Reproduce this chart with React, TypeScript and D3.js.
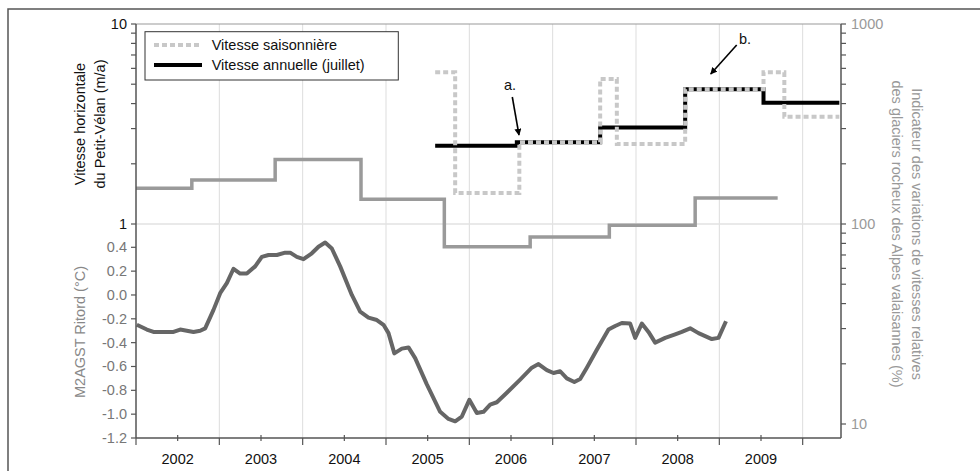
import * as d3 from 'd3';

// rock glacier indicator (%), right axis, step changes
const rgBreaks = [2002.0, 2002.67, 2003.67, 2004.70, 2005.70, 2006.73, 2007.68, 2008.71, 2009.70];
const rgValues = [151, 166, 210, 133, 77, 86, 98.5, 135];

// Petit-Vélan annual velocity (m/a), july to july
const annBreaks = [2005.59, 2006.57, 2007.57, 2008.59, 2009.53, 2010.44];
const annValues = [2.46, 2.56, 3.04, 4.72, 4.04];

// Petit-Vélan seasonal velocity (m/a)
const seasBreaks = [2005.59, 2005.83, 2006.60, 2007.57, 2007.77, 2008.59, 2009.53, 2009.78, 2010.44];
const seasValues = [5.73, 1.43, 2.56, 5.31, 2.51, 4.72, 5.73, 3.44];

// M2AGST Ritord (°C)
const tempTimes = [
  2002.01, 2002.13, 2002.21, 2002.45, 2002.53, 2002.69, 2002.77, 2002.83, 2002.93, 2003.01,
  2003.09, 2003.17, 2003.25, 2003.33, 2003.43, 2003.51, 2003.59, 2003.69, 2003.79, 2003.85,
  2003.93, 2004.01, 2004.11, 2004.19, 2004.27, 2004.35, 2004.45, 2004.59, 2004.69, 2004.79,
  2004.89, 2004.97, 2005.03, 2005.10, 2005.19, 2005.27, 2005.35, 2005.49, 2005.65, 2005.75,
  2005.83, 2005.91, 2006.00, 2006.09, 2006.17, 2006.25, 2006.33, 2006.45, 2006.61, 2006.75,
  2006.83, 2006.93, 2007.01, 2007.09, 2007.17, 2007.26, 2007.33, 2007.41, 2007.53, 2007.67,
  2007.75, 2007.83, 2007.93, 2007.99, 2008.07, 2008.15, 2008.23, 2008.35, 2008.47, 2008.55,
  2008.65, 2008.75, 2008.91, 2008.99, 2009.08,
];
const tempValues = [
  -0.25, -0.29, -0.31, -0.31, -0.29, -0.31, -0.30, -0.28, -0.125, 0.015,
  0.10, 0.22, 0.18, 0.18, 0.24, 0.32, 0.335, 0.335, 0.355, 0.355,
  0.32, 0.30, 0.35, 0.405, 0.44, 0.39, 0.24, 0.0, -0.14, -0.19,
  -0.21, -0.25, -0.32, -0.49, -0.45, -0.44, -0.53, -0.75, -0.98, -1.04,
  -1.06, -1.02, -0.88, -0.99, -0.98, -0.92, -0.90, -0.82, -0.71, -0.61,
  -0.58, -0.63, -0.655, -0.64, -0.70, -0.73, -0.705, -0.61, -0.46, -0.29,
  -0.26, -0.235, -0.24, -0.36, -0.24, -0.31, -0.40, -0.36, -0.33, -0.31,
  -0.28, -0.32, -0.37, -0.36, -0.22,
];

const yearLabels = ['2002', '2003', '2004', '2005', '2006', '2007', '2008', '2009'];
const tempTicks = [0.4, 0.2, 0.0, -0.2, -0.4, -0.6, -0.8, -1.0, -1.2];
const logMinor = [2, 3, 4, 5, 6, 7, 8, 9];

const FONT = '"Liberation Sans", Arial, sans-serif';
const FS = 14.5;

function stepPts(breaks, values) {
  const pts = values.map((v, i) => [breaks[i], v]);
  pts.push([breaks[breaks.length - 1], values[values.length - 1]]);
  return pts;
}

export default function App() {
  const left = 136, right = 841, top = 24, bottom = 438;

  const x = d3.scaleLinear().domain([2002, 2010.46]).range([left, right]);
  const yVel = d3.scaleLog().domain([1, 10]).range([224, top]);
  const yPct = d3.scaleLog().domain([10, 1000]).range([424, top]);
  const yTemp = d3.scaleLinear().domain([-1.2, 0.4]).range([bottom, 247.3]);

  const stepVel = d3.line().curve(d3.curveStepAfter).x(d => x(d[0])).y(d => yVel(d[1]));
  const stepPct = d3.line().curve(d3.curveStepAfter).x(d => x(d[0])).y(d => yPct(d[1]));
  const tempLine = d3.line().x(d => x(d[0])).y(d => yTemp(d[1]));

  const years = d3.range(2003, 2011);
  const midYears = yearLabels.map(y => +y + 0.5);
  const velTicks = [1, ...logMinor, 10];
  const pctTicks = [10, ...logMinor.map(v => v * 10), 100, ...logMinor.map(v => v * 100), 1000];

  return (
    <svg width={980} height={471} style={{ position: 'absolute', left: 0, top: 0, fontFamily: FONT }}>
      <rect x={0} y={0} width={980} height={471} fill="#fff" />
      <rect x={8} y={9} width={1000} height={600} fill="none" stroke="#555" strokeWidth={1.5} />

      {/* grid */}
      {years.map(yr => (
        <line key={yr} x1={x(yr)} x2={x(yr)} y1={top} y2={bottom} stroke="#ddd" strokeWidth={1} />
      ))}
      <line x1={left} x2={right} y1={yVel(1)} y2={yVel(1)} stroke="#e2e2e2" strokeWidth={1.5} />
      <line x1={left} x2={right} y1={top} y2={top} stroke="#999" strokeWidth={1} />

      {/* series */}
      <path d={stepPct(stepPts(rgBreaks, rgValues))} fill="none" stroke="#9a9a9a" strokeWidth={3.5} />
      <path d={tempLine(tempTimes.map((t, i) => [t, tempValues[i]]))} fill="none" stroke="#666" strokeWidth={4} strokeLinejoin="round" />
      <path d={stepVel(stepPts(annBreaks, annValues))} fill="none" stroke="#000" strokeWidth={4} />
      <path d={stepVel(stepPts(seasBreaks, seasValues))} fill="none" stroke="#c8c8c8" strokeWidth={4} strokeDasharray="5 3" />

      {/* left axis */}
      <line x1={left} x2={left} y1={top} y2={bottom} stroke="#555" strokeWidth={1.5} />
      {velTicks.map(v => (
        <line key={'v' + v} x1={left - 5} x2={left} y1={yVel(v)} y2={yVel(v)} stroke="#555" strokeWidth={1.2} />
      ))}
      <text x={left - 9} y={yVel(10) + 5} textAnchor="end" fontSize={FS} fill="#111">10</text>
      <text x={left - 9} y={yVel(1) + 5} textAnchor="end" fontSize={FS} fill="#111">1</text>
      {tempTicks.map(v => (
        <g key={'t' + v}>
          <line x1={left - 5} x2={left} y1={yTemp(v)} y2={yTemp(v)} stroke="#555" strokeWidth={1.2} />
          <text x={left - 9} y={yTemp(v) + 5} textAnchor="end" fontSize={FS} fill="#777">{v.toFixed(1)}</text>
        </g>
      ))}
      <text transform="translate(85,124) rotate(-90)" textAnchor="middle" fontSize={FS} fill="#111">
        <tspan x={0} dy={0}>Vitesse horizontale</tspan>
        <tspan x={0} dy={20}>du Petit-Vélan (m/a)</tspan>
      </text>
      <text transform="translate(85,332) rotate(-90)" textAnchor="middle" fontSize={FS} fill="#888">M2AGST Ritord (°C)</text>

      {/* right axis */}
      <line x1={right} x2={right} y1={top} y2={bottom} stroke="#555" strokeWidth={1.5} />
      {pctTicks.map(v => (
        <line key={'p' + v} x1={right} x2={right + 5} y1={yPct(v)} y2={yPct(v)} stroke="#555" strokeWidth={1.2} />
      ))}
      {[1000, 100, 10].map(v => (
        <text key={'pl' + v} x={right + 10} y={yPct(v) + 5} fontSize={FS} fill="#999">{v}</text>
      ))}
      <text transform="translate(912,234) rotate(90)" textAnchor="middle" fontSize={FS} fill="#999">
        <tspan x={0} dy={0}>Indicateur des variations de vitesses relatives</tspan>
        <tspan x={0} dy={20}>des glaciers rocheux des Alpes valaisannes (%)</tspan>
      </text>

      {/* bottom axis */}
      <line x1={left} x2={right} y1={bottom} y2={bottom} stroke="#555" strokeWidth={1.5} />
      {[2002, ...years].map(yr => (
        <line key={'yt' + yr} x1={x(yr)} x2={x(yr)} y1={bottom} y2={bottom + 7} stroke="#555" strokeWidth={1.2} />
      ))}
      {midYears.map((m, i) => (
        <g key={'m' + m}>
          <line x1={x(m)} x2={x(m)} y1={bottom - 3} y2={bottom + 3} stroke="#555" strokeWidth={1.2} />
          <text x={x(m)} y={464} textAnchor="middle" fontSize={FS} fill="#111">{yearLabels[i]}</text>
        </g>
      ))}

      {/* annotations */}
      <defs>
        <marker id="arr" viewBox="0 0 10 10" refX={9} refY={5} markerWidth={7} markerHeight={7} orient="auto" markerUnits="userSpaceOnUse">
          <path d="M0,0 L10,5 L0,10 z" fill="#000" />
        </marker>
      </defs>
      <text x={510} y={90} textAnchor="middle" fontSize={FS} fill="#111">a.</text>
      <line x1={512.3} y1={97} x2={519} y2={135} stroke="#000" strokeWidth={1.6} markerEnd="url(#arr)" />
      <text x={745} y={44} textAnchor="middle" fontSize={FS} fill="#111">b.</text>
      <line x1={736.7} y1={45} x2={710.7} y2={74} stroke="#000" strokeWidth={1.6} markerEnd="url(#arr)" />

      {/* legend */}
      <rect x={145} y={31.7} width={253.3} height={48.3} fill="#fff" stroke="#333" strokeWidth={1} />
      <line x1={154} x2={202} y1={45} y2={45} stroke="#c8c8c8" strokeWidth={4} strokeDasharray="5 3" />
      <text x={211.7} y={50} fontSize={FS} fill="#111">Vitesse saisonnière</text>
      <line x1={154} x2={202} y1={65} y2={65} stroke="#000" strokeWidth={4} />
      <text x={211.7} y={70} fontSize={FS} fill="#111">Vitesse annuelle (juillet)</text>
    </svg>
  );
}
